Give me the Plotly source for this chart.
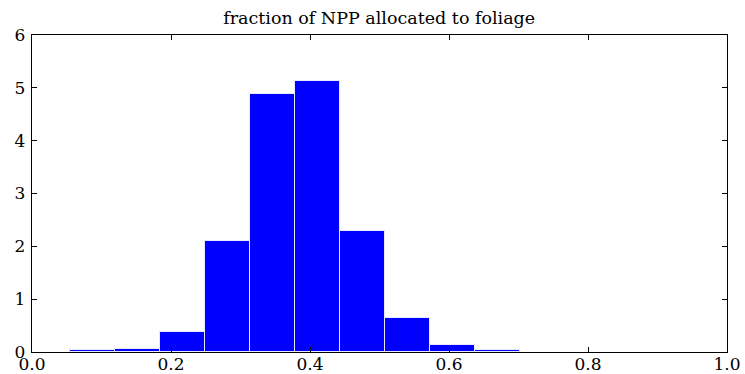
import plotly.graph_objects as go

# histogram bin edges (10 bins) and densities
bin_edges = [0.0547, 0.1194, 0.1841, 0.2488, 0.3135, 0.3782, 0.4429, 0.5076, 0.5723, 0.6370, 0.7017]
density = [0.03, 0.05, 0.38, 2.10, 4.89, 5.13, 2.29, 0.64, 0.13, 0.04]

title_text = "fraction of NPP allocated to foliage"
x_ticks = [0.0, 0.2, 0.4, 0.6, 0.8, 1.0]
x_tick_labels = ["0.0", "0.2", "0.4", "0.6", "0.8", "1.0"]
y_ticks = [0, 1, 2, 3, 4, 5, 6]

centers = [(a + b) / 2 for a, b in zip(bin_edges[:-1], bin_edges[1:])]
widths = [b - a for a, b in zip(bin_edges[:-1], bin_edges[1:])]

font_family = "DejaVu Serif"

fig = go.Figure(
    go.Bar(
        x=centers,
        y=density,
        width=widths,
        marker=dict(color="#0000ff", line=dict(color="#e8e8ff", width=1)),
        hoverinfo="x+y",
    )
)

axis_common = dict(
    showline=True,
    linecolor="black",
    linewidth=1.3,
    mirror="ticks",
    ticks="inside",
    ticklen=5,
    tickwidth=1,
    tickcolor="black",
    showgrid=False,
    zeroline=False,
    automargin=False,
    tickfont=dict(family=font_family, size=17, color="black"),
)

fig.update_layout(
    width=745,
    height=374,
    margin=dict(l=32, r=18, t=35, b=22),
    paper_bgcolor="white",
    plot_bgcolor="white",
    showlegend=False,
    bargap=0,
    title=dict(
        text=title_text,
        x=0.509,
        xanchor="center",
        y=1 - 18 / 374,
        yanchor="middle",
        automargin=False,
        font=dict(family=font_family, size=17.5, color="black"),
    ),
    xaxis=dict(
        range=[0, 1],
        tickvals=x_ticks,
        ticktext=x_tick_labels,
        ticklabelstandoff=-4,
        **axis_common,
    ),
    yaxis=dict(
        range=[0, 6],
        tickvals=y_ticks,
        ticktext=[str(v) for v in y_ticks],
        ticklabelstandoff=2,
        **axis_common,
    ),
)

fig.write_html("out.html")
